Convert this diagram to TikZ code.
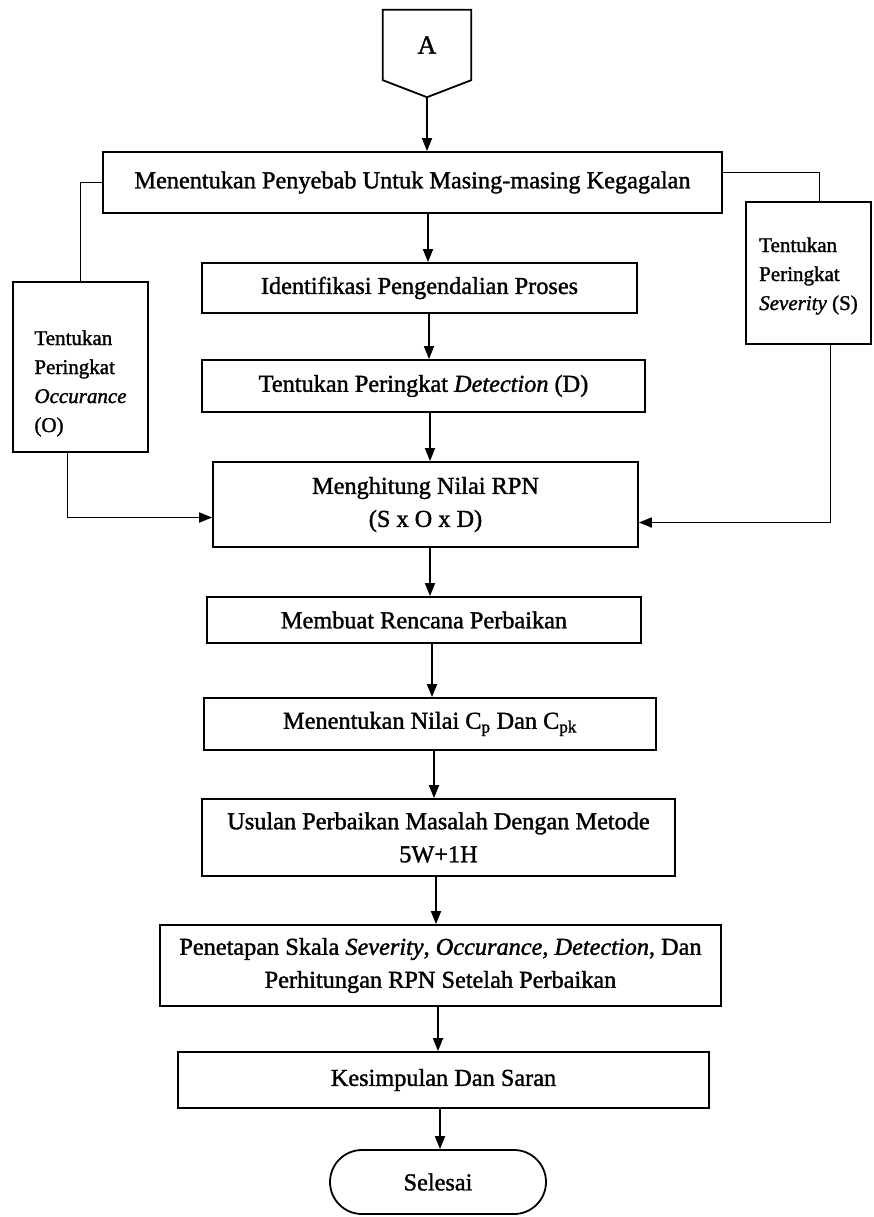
\documentclass[tikz,border=0pt]{standalone}
\usepackage{fontspec}
\setmainfont{Liberation Serif}[FakeBold=1.4,AutoFakeBold=1.4]
\usetikzlibrary{arrows.meta}

\begin{document}
\begin{tikzpicture}[x=1pt,y=-1pt,
  flowline/.style={line width=1.8pt},
  arr/.style={flowline, -{Triangle[length=13pt,width=10pt]}},
  box/.style={draw, flowline, inner sep=0pt, align=center, font=\fontsize{24.3}{33}\selectfont\bfseries},
  side/.style={draw, flowline, inner ysep=0pt, align=left, font=\fontsize{21}{29}\selectfont\bfseries}]
\useasboundingbox (0,0) rectangle (873,1217);
% start connector
\node[minimum width=88pt, minimum height=70pt, inner sep=0pt, font=\fontsize{26}{30}\selectfont\bfseries] (A) at (427,45) {A};
\coordinate (Atip) at ([yshift=-17pt]A.south);
\draw[flowline] (A.south west) -- (A.north west) -- (A.north east) -- (A.south east) -- (Atip) -- cycle;
% main column
\node[box, minimum width=619pt, minimum height=61pt] (penyebab) at (412.5,182.5) {Menentukan Penyebab Untuk Masing-masing Kegagalan};
\node[box, minimum width=435pt, minimum height=50pt] (ident) at (419.5,288) {Identifikasi Pengendalian Proses};
\node[box, minimum width=443pt, minimum height=52pt] (detect) at (423.5,386) {Tentukan Peringkat \textit{Detection} (D)};
\node[box, minimum width=425pt, minimum height=85pt] (rpn) at (425.5,504.5) {Menghitung Nilai RPN\\(S x O x D)};
\node[box, minimum width=434pt, minimum height=46pt] (rencana) at (424,620) {Membuat Rencana Perbaikan};
\node[box, minimum width=452pt, minimum height=52pt] (cpk) at (430,724) {Menentukan Nilai C\textsubscript{p} Dan C\textsubscript{pk}};
\node[box, minimum width=473pt, minimum height=77pt] (usulan) at (438.5,837.5) {Usulan Perbaikan Masalah Dengan Metode\\5W+1H};
\node[box, minimum width=561pt, minimum height=81pt] (penetapan) at (440.5,965.5) {Penetapan Skala \textit{Severity}, \textit{Occurance}, \textit{Detection}, Dan\\Perhitungan RPN Setelah Perbaikan};
\node[box, minimum width=531pt, minimum height=56pt] (kesimpulan) at (443.5,1080) {Kesimpulan Dan Saran};
\node[box, rounded corners=32pt, minimum width=216pt, minimum height=64pt] (selesai) at (438,1182) {Selesai};
% side boxes
\node[side, minimum width=135pt, inner xsep=18pt] (occ) at (80.5,367) {\rule{0pt}{63pt}Tentukan\\Peringkat\\\textit{Occurance}\\(O)\rule[-20pt]{0pt}{20pt}};
\node[side, minimum width=125pt, inner xsep=13pt] (sev) at (808.5,273) {\rule{0pt}{50pt}Tentukan\\Peringkat\\\textit{Severity} (S)\rule[-34pt]{0pt}{34pt}};
% arrows
\draw[arr] (Atip) -- (Atip |- penyebab.north);
\foreach \a/\b/\x in {penyebab/ident/428, ident/detect/429, detect/rpn/430, rpn/rencana/430,
  rencana/cpk/432, cpk/usulan/434, usulan/penetapan/436, penetapan/kesimpulan/438, kesimpulan/selesai/440}
  \draw[arr] (\x,0 |- \a.south) -- (\x,0 |- \b.north);
\draw[flowline] (occ.north) |- (penyebab.west);
\draw[arr] ([xshift=-13pt]occ.south) |- ([yshift=-13pt]rpn.west);
\draw[flowline] ([xshift=11pt]sev.north) |- ([yshift=10pt]penyebab.east);
\draw[arr] ([xshift=22pt]sev.south) |- ([yshift=-18pt]rpn.east);
\end{tikzpicture}
\end{document}
